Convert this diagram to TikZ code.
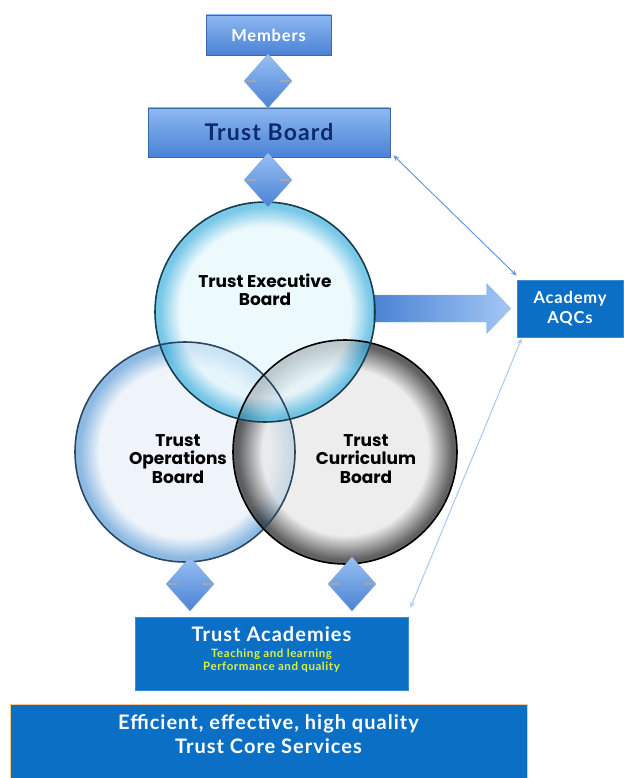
\documentclass[tikz,border=0pt]{standalone}
\usepackage{fontspec}
\setmainfont[LetterSpace=5]{Lato}
\newfontfamily\circfont{Poppins}
\usetikzlibrary{shapes.geometric,positioning,calc,arrows.meta}

\definecolor{boxblue}{HTML}{0B6FC5}
\definecolor{navy}{HTML}{0D2A6E}
\definecolor{lighttop}{HTML}{8DB8F2}
\definecolor{darkbot}{HTML}{4A82D4}
\definecolor{acadyellow}{HTML}{DDF23C}
\definecolor{execin}{HTML}{E4F6FC}
\definecolor{execout}{HTML}{3FB0DE}
\definecolor{opsin}{HTML}{E8F0F9}
\definecolor{opsout}{HTML}{5D9CD6}
\definecolor{currin}{HTML}{E6E6E6}
\definecolor{currout}{HTML}{1E1E1E}

\pgfdeclareradialshading{execshade}{\pgfpoint{0bp}{0bp}}{color(0bp)=(execin); color(19.5bp)=(execin); color(24bp)=(execout); color(25bp)=(execout); color(50bp)=(execout)}
\pgfdeclareradialshading{opsshade}{\pgfpoint{0bp}{0bp}}{color(0bp)=(opsin); color(19.5bp)=(opsin); color(24bp)=(opsout); color(25bp)=(opsout); color(50bp)=(opsout)}
\pgfdeclareradialshading{currshade}{\pgfpoint{0bp}{0bp}}{color(0bp)=(currin); color(18.5bp)=(currin); color(24bp)=(currout); color(25bp)=(currout); color(50bp)=(currout)}

\begin{document}
\begin{tikzpicture}[x=1pt, y=-1pt,
    gradbox/.style = {draw=darkbot!80!black, line width=0.4pt, top color=lighttop, bottom color=darkbot, inner sep=0pt},
    flatbox/.style = {draw=boxblue!80!white, line width=0.6pt, fill=boxblue, text=white, inner sep=0pt, align=center},
    link/.style = {diamond, top color=lighttop!90!white, bottom color=darkbot, draw=darkbot!70!white, line width=0.3pt, minimum width=48pt, minimum height=54pt, inner sep=0pt},
    notch/.style = {draw=gray!70, line width=1.6pt},
    board/.style = {circle, minimum size=220pt, inner sep=0pt, shade, fill opacity=0.7},
    rim/.style = {line width=1.6pt},
    boardtext/.style = {font=\circfont\bfseries\fontsize{17}{18.5}\selectfont, align=center, text=black},
    thinarrow/.style = {line width=1pt, {Stealth[length=6pt,width=5pt]}-{Stealth[length=6pt,width=5pt]}}]
\useasboundingbox (0,0) rectangle (623,778);

% boxes at the top
\node (members) [gradbox, minimum width=125pt, minimum height=40pt, text=white,
    font=\bfseries\fontsize{16.5}{18}\selectfont] at (268.5,35) {Members};
\node (trustboard) [gradbox, minimum width=242pt, minimum height=49pt, text=navy,
    font=\bfseries\fontsize{23}{25}\selectfont] at (269,132.5) {Trust Board};
\node (aqc) [flatbox, minimum width=106pt, minimum height=57pt,
    font=\bfseries\fontsize{16.5}{20}\selectfont] at (570,308.5) {Academy\\AQCs};

% big arrow to the AQCs
\shade[left color=darkbot, right color=lighttop!80!white, draw=darkbot!60!white, line width=0.4pt]
    (373,295) -- ($(aqc.west)+(-30,-13.5)$) -- ($(aqc.west)+(-30,-25)$) -- ($(aqc.west)+(-6,0)$)
    -- ($(aqc.west)+(-30,25)$) -- ($(aqc.west)+(-30,13.5)$) -- (373,322) -- cycle;

% the three boards
\node (ops) [board, shading=opsshade] at (185,452) {};
\node (curr) [board, shading=currshade, minimum size=224pt] at (345,452) {};
\node (exec) [board, shading=execshade] at (265,312) {};
\draw[rim, draw=opsout!45!black] (ops.center) circle[radius=110];
\draw[rim, draw=black] (curr.center) circle[radius=112];
\draw[rim, draw=execout!35!black] (exec.center) circle[radius=110];
\node (exectext) [boardtext] at (265,290) {Trust Executive\\Board};
\node (opstext) [boardtext] at (178,459) {Trust\\Operations\\Board};
\node (currtext) [boardtext] at (366,459) {Trust\\Curriculum\\Board};

% boxes at the bottom
\node (academies) [flatbox, minimum width=273pt, minimum height=73pt] at (271.5,653.5) {};
\node (acadtitle) [text=white, font=\bfseries\fontsize{20}{22}\selectfont] at (271.5,634) {Trust Academies};
\node (acadsub) [text=acadyellow, font=\bfseries\fontsize{11.5}{13}\selectfont, align=center] at (271.5,661) {Teaching and learning\\Performance and quality};
\fill[boxblue, draw=orange!45!white, line width=0.8pt] (10,704) rectangle (527,790);
\node (core) [text=white, align=center, font=\bfseries\fontsize{20}{24}\selectfont] at (268.5,734)
    {Efficient, effective, high quality\\Trust Core Services};

% linking diamonds
\node (d1) [link] at (268,81) {};
\node (d2) [link] at (268,180) {};
\node (d3) [link] at (190,584) {};
\node (d4) [link] at (352,584) {};
\foreach \d in {d1,d2,d3,d4} {
    \draw[notch] ($(\d.center)+(-22,0)$) -- ++(10,0);
    \draw[notch] ($(\d.center)+(12,0)$) -- ++(10,0);
}

% thin arrows
\draw[thinarrow, draw=darkbot!80!white, fill=darkbot!80!white] ($(trustboard.south east)+(3,-2)$) -- ($(aqc.north west)+(0,-4)$);
\draw[thinarrow, draw=lighttop!75!white, fill=lighttop!75!white] ($(aqc.south west)+(5,1)$) -- ($(academies.north east)+(2,-9)$);
\end{tikzpicture}
\end{document}
